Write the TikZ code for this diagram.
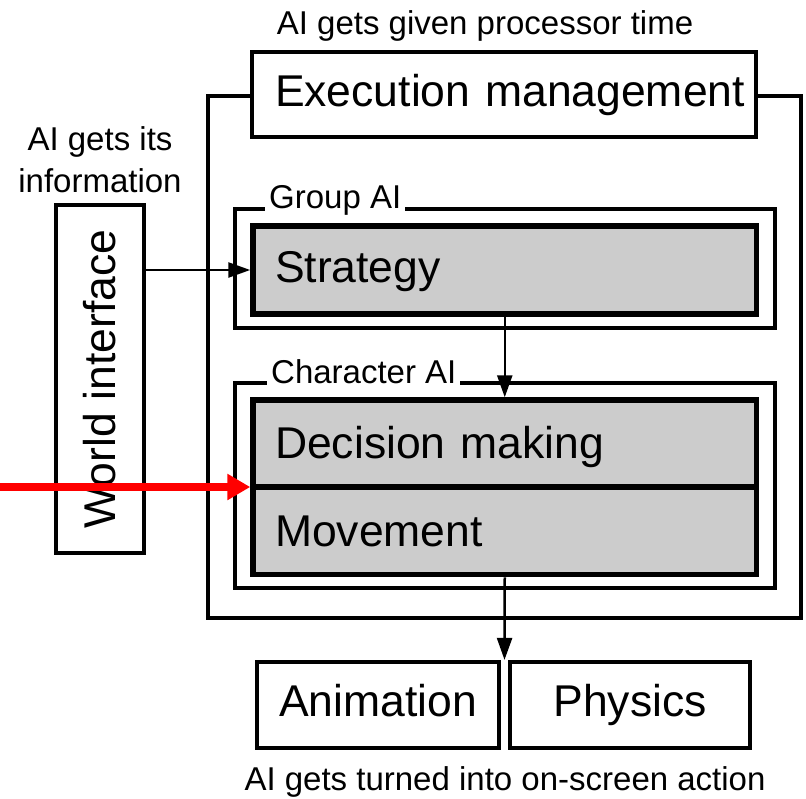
\documentclass[tikz,border=0pt]{standalone}
\usepackage{fontspec}
\setmainfont{Liberation Sans}
\usetikzlibrary{arrows.meta,calc}
\definecolor{boxgray}{RGB}{204,204,204}
\definecolor{arrowred}{RGB}{255,0,0}
\tikzset{
  bigfont/.style={font=\fontsize{44.5}{50}\selectfont},
  smallfont/.style={font=\fontsize{33}{42}\selectfont},
  outerframe/.style={draw, line width=3.8pt, inner sep=0pt},
  groupframe/.style={draw, line width=3.2pt, inner sep=0pt},
  framelabel/.style={smallfont, fill=white, inner xsep=4pt, inner ysep=3pt, anchor=base west},
  whitebox/.style={draw, line width=4.2pt, fill=white, inner sep=0pt, bigfont, text height=30.7pt, text depth=0pt},
  graybox/.style={draw, line width=5.5pt, fill=boxgray, inner xsep=22pt, inner ysep=0pt, align=left, bigfont, text height=30.7pt, text depth=0pt},
  connector/.style={line width=2.5pt, -{Triangle[length=22pt,width=15pt]}},
  redarrow/.style={draw=arrowred, line width=8pt, -{Triangle[length=23pt,width=25pt]}},
}
\begin{document}
\begin{tikzpicture}[x=1pt,y=-1pt]
\useasboundingbox (0,0) rectangle (806,798);

% outer execution frame
\node[outerframe, minimum width=593pt, minimum height=522pt] (outer) at (504.5,357) {};

% top label and execution box
\node[smallfont, anchor=base] (toptext) at (485,34) {AI gets given processor time};
\node[whitebox, minimum width=504pt, minimum height=85pt, text width=458pt, inner xsep=22pt, align=left, text depth=7pt] (exec) at (504,94.5) {\mbox{Execution management}};

% info label and world interface
\node[smallfont, align=center, anchor=north, inner sep=0pt] (info) at (100,126) {AI gets its\\information};
\node[draw, line width=4.5pt, rotate=90, minimum width=348pt, minimum height=88pt, inner sep=0pt, bigfont, text height=30.7pt, text depth=0pt] (wi) at (100,379) {World interface};

% group AI
\node[groupframe, minimum width=540pt, minimum height=119pt] (grp) at (505,268.5) {};
\node[framelabel] (grplabel) at (265,208) {Group AI};
\node[graybox, minimum width=503.5pt, minimum height=88pt, text width=459.5pt, text depth=6.7pt] (strat) at (504.75,270) {Strategy};

% character AI
\node[groupframe, minimum width=540pt, minimum height=205pt] (chr) at (505,485.5) {};
\node[framelabel] (chrlabel) at (267,383) {Character AI};
\node[graybox, minimum width=503.5pt, minimum height=87pt, text width=459.5pt] (dec) at (504.75,443.5) {Decision making};
\node[graybox, minimum width=503.5pt, minimum height=87.5pt, text width=459.5pt] (mov) at (504.75,530.75) {Movement};

% animation and physics
\node[whitebox, minimum width=242pt, minimum height=86pt, text depth=8.7pt] (anim) at (378,705) {Animation};
\node[whitebox, minimum width=240pt, minimum height=86pt, text depth=8.7pt] (phys) at (630,705) {Physics};
\node[smallfont, anchor=base] (bottext) at (505,790) {AI gets turned into on-screen action};

% connectors
\draw[connector] (wi.south |- strat.west) -- (strat.west);
\draw[connector] (strat.south) -- (dec.north);
\coordinate (gap) at ($(anim.north east)!0.5!(phys.north west)$);
\draw[connector] (mov.south) -- (gap);
\coordinate (redstart) at (0,487);
\draw[redarrow] (redstart) -- (redstart -| dec.south west);
\end{tikzpicture}
\end{document}
